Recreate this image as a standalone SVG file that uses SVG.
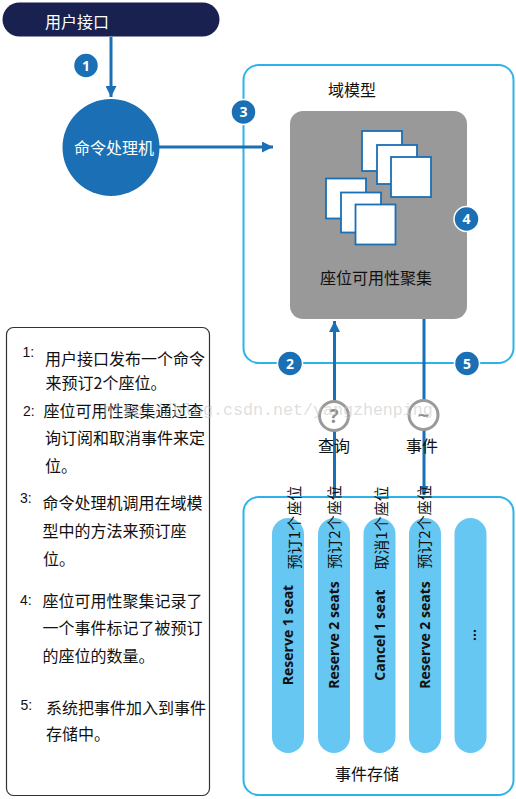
<svg xmlns="http://www.w3.org/2000/svg" width="516" height="799" viewBox="0 0 516 799">
<style>
.cjk{font-family:"Noto Sans CJK SC","Noto Sans",sans-serif;}
.t16{font-size:16px;fill:#111;}
.num{font-family:"Liberation Sans",Arial,sans-serif;font-size:14px;fill:#111;}
.badge circle{fill:#1a6fb5;stroke:#fff;stroke-width:1.5;}
.badge text{font-family:"Open Sans","Liberation Sans",sans-serif;font-weight:bold;font-size:14px;fill:#fff;text-anchor:middle;}
.conn{stroke:#1a6fb5;stroke-width:3;fill:none;}
.frame{fill:#fff;stroke:#2cb4ea;stroke-width:2;}
.sq{fill:#fff;stroke:#1a6fb5;stroke-width:1.8;}
.pill{fill:#66c7f2;}
.ptxt{font-family:"Open Sans","Liberation Sans",sans-serif;font-weight:bold;font-size:14px;fill:#111;text-anchor:middle;}
.vlab{font-size:15px;fill:#111;text-anchor:middle;}
.gcirc{fill:#fff;stroke:#9a9a9a;stroke-width:3;}
.gtxt{font-family:"Open Sans","Liberation Sans",sans-serif;font-weight:bold;fill:#8c8c8c;text-anchor:middle;}
</style>
<defs>
<marker id="ah" viewBox="0 0 10 10" refX="10" refY="5" markerWidth="11" markerHeight="11" markerUnits="userSpaceOnUse" orient="auto">
<path d="M0,0 L10,5 L0,10 z" fill="#1a6fb5"/>
</marker>
<marker id="ahs" viewBox="0 0 10 10" refX="10" refY="5" markerWidth="11" markerHeight="9" markerUnits="userSpaceOnUse" orient="auto">
<path d="M0,0 L10,5 L0,10 z" fill="#1a6fb5"/>
</marker>
</defs>
<rect width="516" height="799" fill="#fff"/>

<g id="domain-model">
<rect class="frame" x="243.5" y="65" width="270" height="298" rx="15"/>
<text class="cjk t16" x="352" y="96" text-anchor="middle">域模型</text>
</g>

<g id="connectors">
<line class="conn" x1="111" y1="37" x2="111" y2="97" marker-end="url(#ah)"/>
<line class="conn" x1="159" y1="147" x2="273" y2="147" marker-end="url(#ah)"/>
<line class="conn" x1="334.5" y1="497" x2="334.5" y2="321" marker-end="url(#ah)"/>
<line class="conn" x1="424" y1="319" x2="424" y2="495" marker-end="url(#ahs)"/>
</g>

<g id="event-store">
<path d="M243.5,512 A15,15 0 0 1 258.5,497 L498.5,497 A15,15 0 0 1 513.5,512 L513.5,780 A15,15 0 0 1 498.5,795 L258.5,795 A15,15 0 0 1 243.5,780 Z" fill="none" stroke="#2cb4ea" stroke-width="2"/>
<rect class="pill" x="272" y="518" width="32" height="235" rx="16"/>
<rect class="pill" x="318" y="518" width="32" height="235" rx="16"/>
<rect class="pill" x="363.5" y="518" width="32" height="235" rx="16"/>
<rect class="pill" x="409" y="518" width="32" height="235" rx="16"/>
<rect class="pill" x="454.5" y="518" width="32" height="235" rx="16"/>
<text class="ptxt" transform="translate(288,635) rotate(-90)" y="5">Reserve 1 seat</text>
<text class="ptxt" transform="translate(334,635) rotate(-90)" y="5">Reserve 2 seats</text>
<text class="ptxt" transform="translate(379.5,635) rotate(-90)" y="5">Cancel 1 seat</text>
<text class="ptxt" transform="translate(425,635) rotate(-90)" y="5">Reserve 2 seats</text>
<text class="ptxt" transform="translate(470.5,635) rotate(-90)" y="5">...</text>
<text class="cjk t16" x="367" y="780" text-anchor="middle">事件存储</text>
</g>

<g id="aggregate">
<rect x="290" y="111" width="177" height="208" rx="13" fill="#999999"/>
<rect class="sq" x="362" y="131" width="40" height="40"/>
<rect class="sq" x="377" y="145" width="40" height="39"/>
<rect class="sq" x="391" y="157" width="40" height="40"/>
<rect class="sq" x="326" y="178.5" width="40" height="40"/>
<rect class="sq" x="341" y="192.5" width="40" height="40"/>
<rect class="sq" x="355.5" y="204.5" width="40" height="40"/>
<text class="cjk t16" x="376" y="283.5" text-anchor="middle">座位可用性聚集</text>
</g>

<g id="user-interface">
<rect x="2.5" y="2.5" width="217" height="34" rx="17" fill="#18214f"/>
<text class="cjk" x="77" y="27.5" font-size="16" fill="#fff" text-anchor="middle">用户接口</text>
</g>

<g id="command-handler">
<circle cx="111" cy="147.5" r="48.5" fill="#1a6fb5"/>
<text class="cjk" x="114" y="154" font-size="16" fill="#fff" text-anchor="middle">命令处理机</text>
</g>

<g id="query">
<circle class="gcirc" cx="334" cy="416" r="14.5"/>
<text class="gtxt" x="334" y="423" font-size="19">?</text>
<text class="cjk t16" x="334" y="451.5" text-anchor="middle">查询</text>
</g>

<g id="event">
<circle class="gcirc" cx="423.5" cy="415" r="14.5"/>
<text class="gtxt" x="423.5" y="422" font-size="20">~</text>
<text class="cjk t16" x="422" y="451.5" text-anchor="middle">事件</text>
</g>

<g id="event-labels">
<text class="cjk vlab" transform="translate(300,527.5) rotate(-90)">预订1个座位</text>
<text class="cjk vlab" transform="translate(340,527) rotate(-90)">预订2个座位</text>
<text class="cjk vlab" transform="translate(386.5,528) rotate(-90)">取消1个座位</text>
<text class="cjk vlab" transform="translate(430,527) rotate(-90)">预订2个座位</text>
</g>

<g id="badges">
<g class="badge"><circle cx="86" cy="65.5" r="12.5"/><text x="86" y="70.5">1</text></g>
<g class="badge"><circle cx="243.5" cy="112" r="12.5"/><text x="243.5" y="117">3</text></g>
<g class="badge"><circle cx="466.5" cy="219" r="12.5"/><text x="466.5" y="224">4</text></g>
<g class="badge"><circle cx="290" cy="363.5" r="12.5"/><text x="290" y="368.5">2</text></g>
<g class="badge"><circle cx="467" cy="363.5" r="12.5"/><text x="467" y="368.5">5</text></g>
</g>

<g id="legend">
<rect x="6.5" y="327.5" width="203" height="468" rx="7" fill="#fff" stroke="#333" stroke-width="1.2"/>
<text class="num" x="22.5" y="357">1:</text>
<text class="cjk t16" x="45" y="365">用户接口发布一个命令</text>
<text class="cjk t16" x="45.5" y="388.5">来预订2个座位。</text>
<text class="num" x="23" y="416">2:</text>
<text class="cjk t16" x="43.5" y="416.5">座位可用性聚集通过查</text>
<text class="cjk t16" x="45" y="443.5">询订阅和取消事件来定</text>
<text class="cjk t16" x="45" y="471.5">位。</text>
<text class="num" x="20" y="503">3:</text>
<text class="cjk t16" x="42.5" y="508.5">命令处理机调用在域模</text>
<text class="cjk t16" x="42.5" y="536.5">型中的方法来预订座</text>
<text class="cjk t16" x="43" y="565">位。</text>
<text class="num" x="20" y="605">4:</text>
<text class="cjk t16" x="42.5" y="606.5">座位可用性聚集记录了</text>
<text class="cjk t16" x="42.5" y="633.5">一个事件标记了被预订</text>
<text class="cjk t16" x="42.5" y="661.5">的座位的数量。</text>
<text class="num" x="20.5" y="710">5:</text>
<text class="cjk t16" x="46" y="713.5">系统把事件加入到事件</text>
<text class="cjk t16" x="46" y="740">存储中。</text>
</g>

<text x="103" y="415" font-family="'Liberation Mono',monospace" font-size="16.67" fill="#c8c8c8" fill-opacity="0.6">http://blog.csdn.net/yangzhenping</text>
</svg>
